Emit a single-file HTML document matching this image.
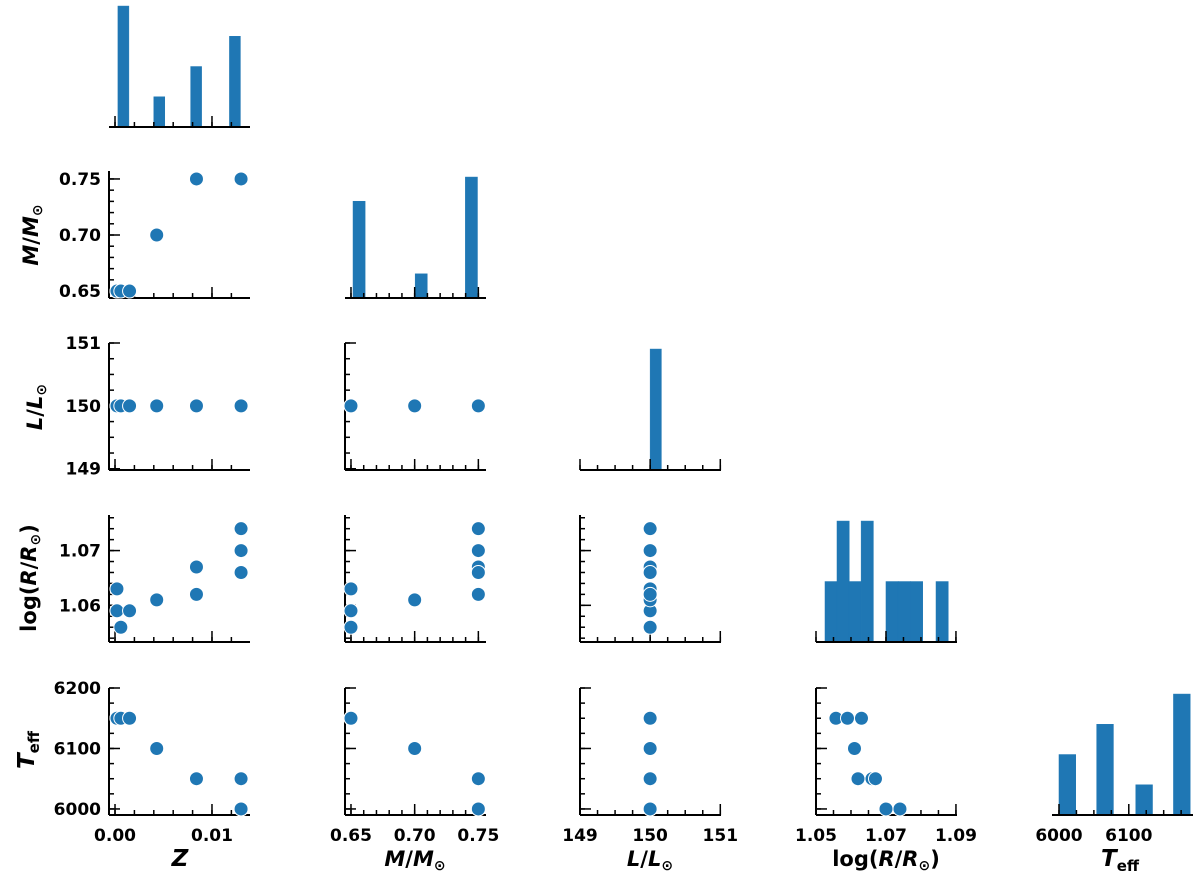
<!DOCTYPE html>
<html><head><meta charset="utf-8"><style>
html,body{margin:0;padding:0;background:#fff;}
svg{display:block;font-family:"DejaVu Sans","Liberation Sans",sans-serif;}
</style></head><body>
<svg id="fig" width="1200" height="886" viewBox="0 0 1200 886" xmlns="http://www.w3.org/2000/svg"></svg>
<script>
// ---- data (one entry per model) ----
const zVals    = [0.0002, 0.0002, 0.0006, 0.0015, 0.0043, 0.0084, 0.0084, 0.0130, 0.0130, 0.0130];
const massVals = [0.65, 0.65, 0.65, 0.65, 0.70, 0.75, 0.75, 0.75, 0.75, 0.75];
const lumVals  = [150, 150, 150, 150, 150, 150, 150, 150, 150, 150];
const logRVals = [1.063, 1.059, 1.056, 1.059, 1.061, 1.062, 1.067, 1.066, 1.070, 1.074];
const teffVals = [6150, 6150, 6150, 6150, 6100, 6050, 6050, 6050, 6000, 6000];
const teffVsLogR = [[1.0557,6150],[1.059,6150],[1.063,6150],[1.061,6100],[1.062,6050],[1.066,6050],[1.067,6050],[1.070,6000],[1.074,6000]];
// ---- histograms: bin left edges, bin width, counts ----
const zHistEdges = [0.0003, 0.0040, 0.0078, 0.0118];
const zHistWidth = 0.00113;
const zHistCounts = [4, 1, 2, 3];
const mHistEdges = [0.6516, 0.7004, 0.7398];
const mHistWidth = 0.0095;
const mHistCounts = [4, 1, 5];
const lHistEdges = [150.0];
const lHistWidth = 0.16;
const lHistCounts = [10];
const rHistEdges = [1.05257, 1.0560, 1.0594, 1.0629, 1.0700, 1.0735, 1.0770, 1.0843];
const rHistWidth = 0.0035;
const rHistCounts = [1, 2, 1, 2, 1, 1, 1, 1];
const tHistEdges = [6000, 6054, 6110, 6164];
const tHistWidth = 24;
const tHistCounts = [2, 3, 1, 4];

const NS = "http://www.w3.org/2000/svg";
const svg = document.getElementById('fig');
const BLUE = "#1f77b4";
const colLeft = [109, 345, 580, 816, 1052];
const rowTop = [0, 171, 343, 515, 688];
const W = 141, H = 127;

const vars = [
  {key:'z', xd:[-0.00062,0.01392], yd:null, major:[0,0.01], minor:0.002, xlab:['0.00','0.01'], ylab:null, data:zVals},
  {key:'m', xd:[0.6453,0.756], yd:[0.6438,0.7571], major:[0.65,0.70,0.75], minor:0.01, xlab:['0.65','0.70','0.75'], ylab:['0.65','0.70','0.75'], data:massVals},
  {key:'l', xd:[149,151.01], yd:[148.98,151], major:[149,150,151], minor:0.25, xlab:['149','150','151'], ylab:['149','150','151'], data:lumVals},
  {key:'r', xd:[1.05,1.0903], yd:[1.0533,1.0765], major:[1.05,1.07,1.09], ymajor:[1.06,1.07], minor:0.005, yminor:0.002, xlab:['1.05','1.07','1.09'], ylab:['1.06','1.07'], data:logRVals},
  {key:'t', xd:[5990,6192], yd:[5990,6200], major:[6000,6100,6200], xmajor:[6000,6100], minor:25, xlab:['6000','6100'], ylab:['6000','6100','6200'], data:teffVals}
];
const hists = [
  [zHistEdges,zHistWidth,zHistCounts],[mHistEdges,mHistWidth,mHistCounts],
  [lHistEdges,lHistWidth,lHistCounts],[rHistEdges,rHistWidth,rHistCounts],[tHistEdges,tHistWidth,tHistCounts]
];

function el(tag, attrs, parent){
  const e = document.createElementNS(NS, tag);
  for (const k in attrs) e.setAttribute(k, attrs[k]);
  (parent||svg).appendChild(e);
  return e;
}
function xs(i, v){ const d = vars[i].xd; return colLeft[i] + (v-d[0])/(d[1]-d[0])*W; }
function ys(j, v){ const d = vars[j].yd; return rowTop[j] + H - (v-d[0])/(d[1]-d[0])*H; }
function minorList(d, step){ const out=[]; const s=Math.ceil(d[0]/step-1e-9); for(let k=s; k*step<=d[1]+1e-12; k++) out.push(k*step); return out; }

function xAxis(i, j, g, withLabels){
  const v = vars[i], by = rowTop[j]+H;
  el('line',{x1:colLeft[i],x2:colLeft[i]+W,y1:by,y2:by,stroke:'#000','stroke-width':2},g);
  minorList(v.xd, v.minor).forEach(t=>{ const x=xs(i,t); el('line',{x1:x,x2:x,y1:by,y2:by-5,stroke:'#000','stroke-width':1.5},g); });
  (v.xmajor||v.major).forEach(t=>{ if(t<v.xd[0]||t>v.xd[1]) return; const x=xs(i,t); el('line',{x1:x,x2:x,y1:by,y2:by-11,stroke:'#000','stroke-width':1.5},g); });
  if (withLabels){
    (v.xmajor||v.major).forEach((t,k)=>{
      const tx = el('text',{x:xs(i,t),y:by+26,'text-anchor':'middle','font-size':17,'font-weight':'bold'},g);
      tx.textContent = v.xlab[k];
      
      
    });
  }
}
function yAxis(i, j, g, withLabels){
  const v = vars[j], lx = colLeft[i];
  el('line',{x1:lx,x2:lx,y1:rowTop[j],y2:rowTop[j]+H,stroke:'#000','stroke-width':2},g);
  minorList(v.yd, v.yminor||v.minor).forEach(t=>{ const y=ys(j,t); el('line',{x1:lx,x2:lx+5,y1:y,y2:y,stroke:'#000','stroke-width':1.5},g); });
  (v.ymajor||v.major).forEach((t,k)=>{
    const y=ys(j,t); el('line',{x1:lx,x2:lx+11,y1:y,y2:y,stroke:'#000','stroke-width':1.5},g);
    if (withLabels){
      const tx = el('text',{x:lx-8,y:y+6,'text-anchor':'end','font-size':17,'font-weight':'bold'},g);
      tx.textContent = v.ylab[k];
      
      
    }
  });
}

for (let j=0;j<5;j++){
  for (let i=0;i<=j;i++){
    const g = el('g',{});
    if (i===j){
      
      
      const [edges,wd,counts] = hists[i];
      const ymax = Math.max(...counts)*1.05;
      edges.forEach((e,k)=>{
        const x0 = xs(i,e), x1 = xs(i,e+wd);
        const h = counts[k]/ymax*H;
        const r = el('rect',{x:x0,y:rowTop[j]+H-h,width:x1-x0,height:h,fill:BLUE,stroke:BLUE,'stroke-width':0.5},g);
        
        
      });
      xAxis(i,j,g,j===4);
    } else {
      
      
      xAxis(i,j,g,j===4);
      yAxis(i,j,g,i===0);
      let pts;
      if (i===3 && j===4) pts = teffVsLogR;
      else pts = vars[i].data.map((v,k)=>[v, vars[j].data[k]]);
      pts.forEach(p=>{
        const c = el('circle',{cx:xs(i,p[0]),cy:ys(j,p[1]),r:7,fill:BLUE,stroke:'#fff','stroke-width':1},g);
        
        
      });
    }
  }
}
</script>
<!-- axis titles -->
<svg style="position:absolute;left:0;top:0" width="1200" height="886">
  <g font-family="DejaVu Sans, Liberation Sans, sans-serif" font-size="21" font-weight="bold">
    <text x="180" y="866" text-anchor="middle" font-style="italic" font-size="23">Z</text>
    <text x="415" y="866" text-anchor="middle"><tspan font-style="italic">M</tspan>/<tspan font-style="italic">M</tspan><tspan font-size="14" dy="4">⊙</tspan></text>
    <text x="650" y="866" text-anchor="middle"><tspan font-style="italic">L</tspan>/<tspan font-style="italic">L</tspan><tspan font-size="14" dy="4">⊙</tspan></text>
    <text x="886" y="866" text-anchor="middle">log(<tspan font-style="italic">R</tspan>/<tspan font-style="italic">R</tspan><tspan font-size="14" dy="4">⊙</tspan><tspan dy="-4">)</tspan></text>
    <text x="1120" y="866" text-anchor="middle"><tspan font-style="italic" font-size="23">T</tspan><tspan font-size="15" dy="5">eff</tspan></text>
    <text transform="translate(38,235) rotate(-90)" text-anchor="middle"><tspan font-style="italic">M</tspan>/<tspan font-style="italic">M</tspan><tspan font-size="14" dy="4">⊙</tspan></text>
    <text transform="translate(42,407) rotate(-90)" text-anchor="middle"><tspan font-style="italic">L</tspan>/<tspan font-style="italic">L</tspan><tspan font-size="14" dy="4">⊙</tspan></text>
    <text transform="translate(36,578) rotate(-90)" text-anchor="middle">log(<tspan font-style="italic">R</tspan>/<tspan font-style="italic">R</tspan><tspan font-size="14" dy="4">⊙</tspan><tspan dy="-4">)</tspan></text>
    <text transform="translate(34,750) rotate(-90)" text-anchor="middle"><tspan font-style="italic" font-size="23">T</tspan><tspan font-size="15" dy="5">eff</tspan></text>
  </g>
</svg>
</body></html>
